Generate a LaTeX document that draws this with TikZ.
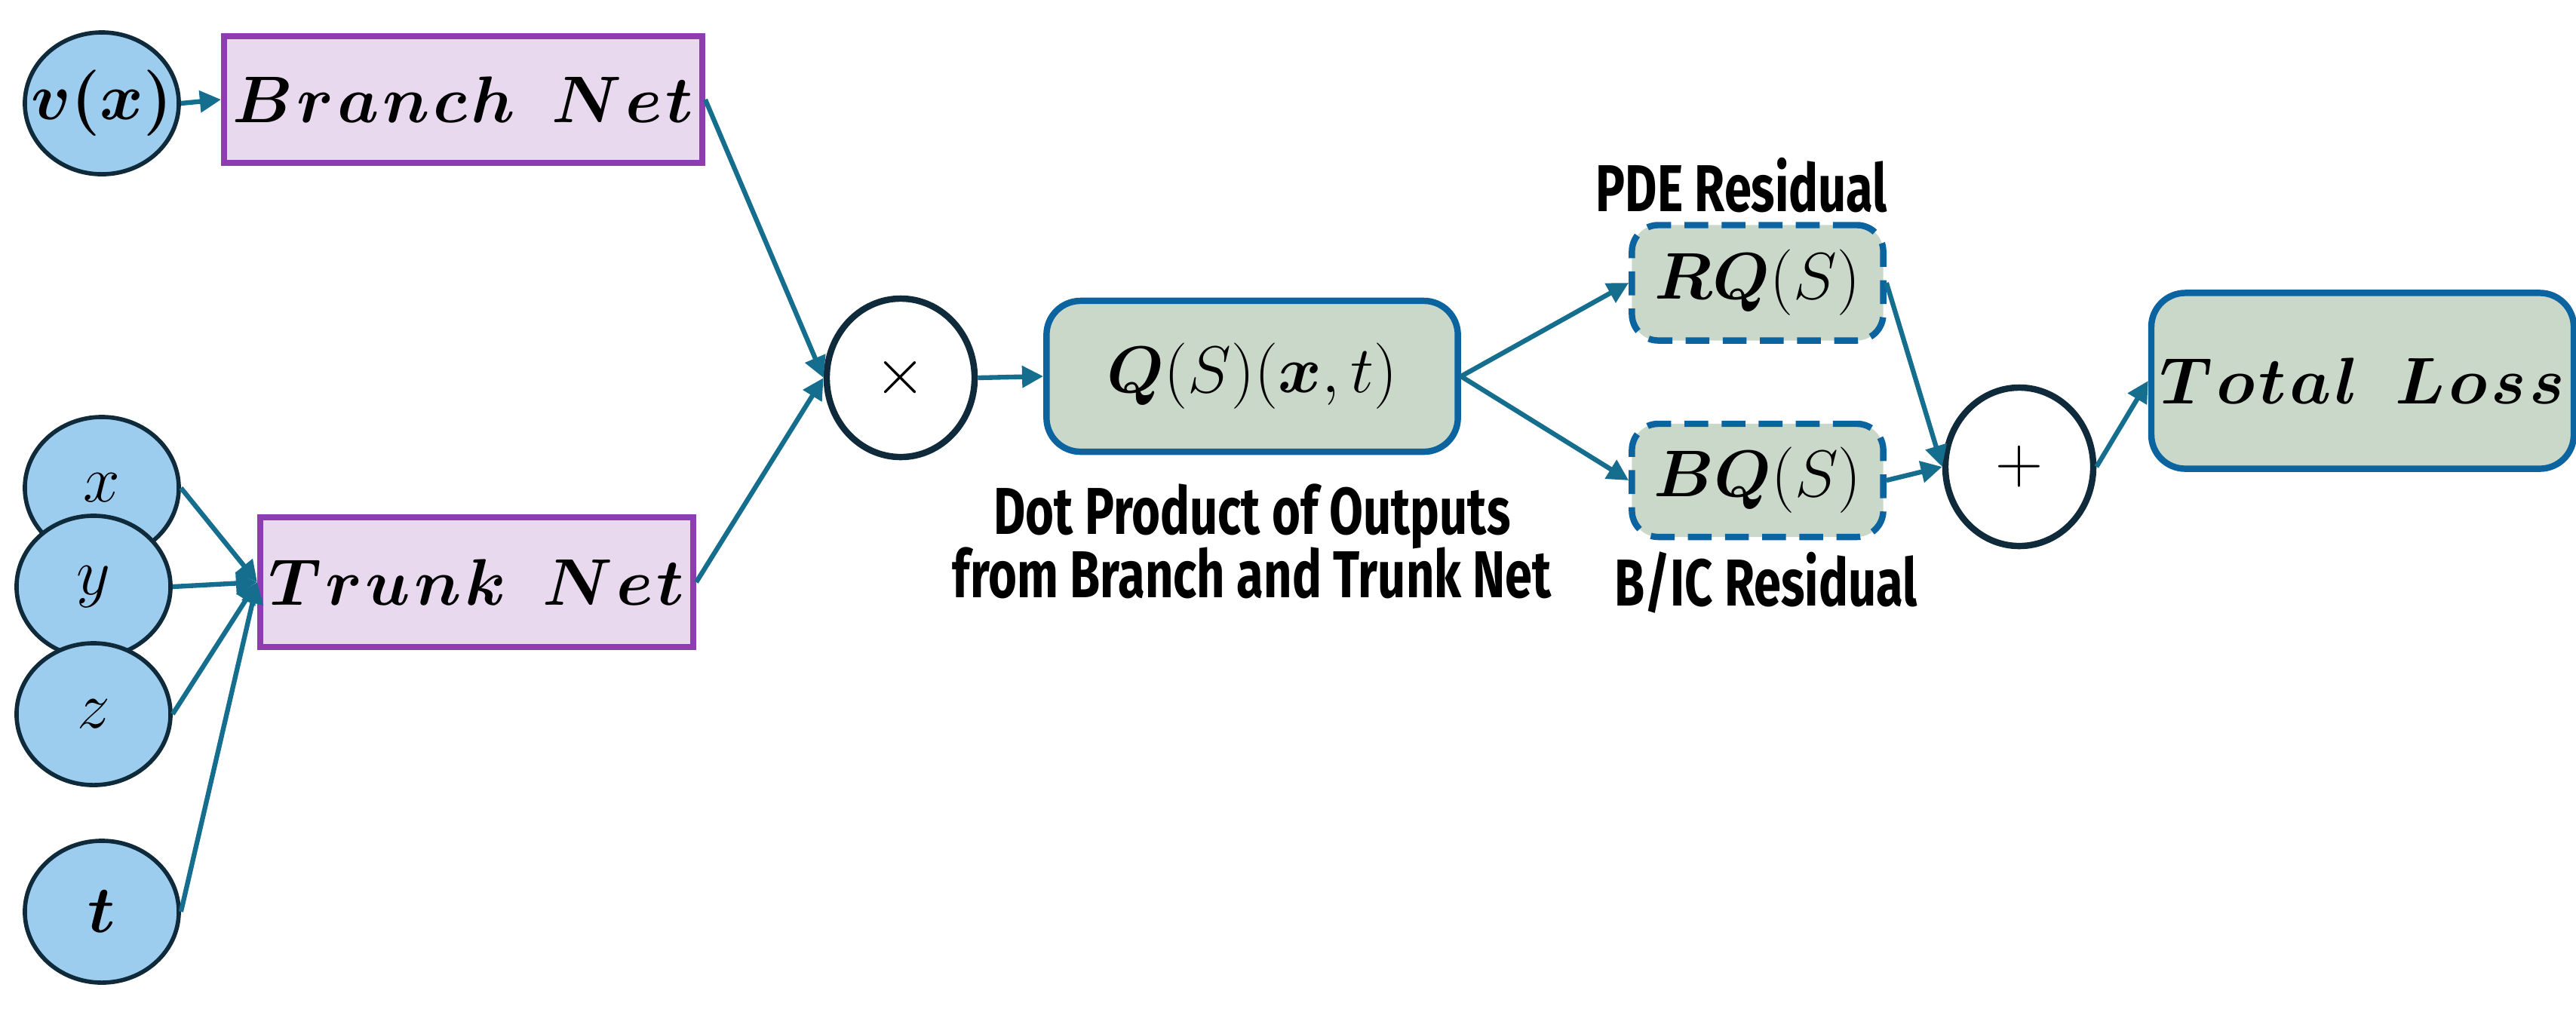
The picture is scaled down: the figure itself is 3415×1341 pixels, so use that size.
\documentclass[tikz,border=0pt]{standalone}
\usepackage{fontspec}
\usepackage{amsmath,bm}
\usetikzlibrary{arrows.meta,shapes.geometric}
\newfontfamily\labfont{Fira Sans}[FakeStretch=0.74]
\definecolor{inC}{HTML}{9DCDEE}
\definecolor{inB}{HTML}{0F2A3A}
\definecolor{netF}{HTML}{E8D9EE}
\definecolor{netB}{HTML}{8E3DB0}
\definecolor{grF}{HTML}{C9D8C9}
\definecolor{grB}{HTML}{0B63A0}
\definecolor{arr}{HTML}{166E8F}
\begin{document}
\begin{tikzpicture}[x=0.01cm,y=-0.01cm,
 inp/.style={ellipse,draw=inB,fill=inC,line width=1.6pt,inner sep=0pt,minimum width=2.04cm,minimum height=1.88cm},
 itx/.style={font=\fontsize{28}{34}\selectfont,inner sep=0pt},
 net/.style={rectangle,draw=netB,fill=netF,line width=2.2pt,font=\fontsize{25}{30}\selectfont},
 gr/.style={rectangle,rounded corners=0.45cm,draw=grB,fill=grF,line width=2.4pt,font=\fontsize{30}{36}\selectfont},
 dgr/.style={gr,dash pattern=on 9pt off 5pt,rounded corners=0.35cm},
 op/.style={ellipse,draw=inB,fill=white,line width=2.4pt,font=\fontsize{32}{38}\selectfont},
 lab/.style={font=\labfont\bfseries\fontsize{25}{30}\selectfont,align=center},
 ar/.style={draw=arr,line width=1.8pt,-{Triangle[length=8pt,width=8pt]}}]
\useasboundingbox (0,0) rectangle (3415,1341);
\node[inp] (v) at (135,137) {};
\node[inp] (x) at (135,647) {};
\node[inp] (y) at (124,778) {};
\node[inp] (z) at (124,947) {};
\node[inp] (t) at (135,1209) {};
\node[itx] (vl) at (v) {$\bm{v(x)}$};
\node[itx] (xl) at (x) {$x$};
\node[itx] (yl) at (y) {$y$};
\node[itx] (zl) at (z) {$z$};
\node[itx] (tl0) at (t) {$\bm{t}$};
\node[net,minimum width=5.66cm,minimum height=1.68cm] (br) at (614,132) {$\bm{B\mkern1mu r\mkern1mu a\mkern1mu n\mkern1mu c\mkern1mu h\;\;N\mkern1mu e\mkern1mu t}$};
\node[net,minimum width=5.69cm,minimum height=1.72cm] (tr) at (632,772) {$\bm{T\mkern1mu r\mkern1mu u\mkern1mu n\mkern1mu k\;\;N\mkern1mu e\mkern1mu t}$};
\node[op,minimum width=1.96cm,minimum height=2.1cm] (mul) at (1194,501) {$\times$};
\node[gr,minimum width=5.45cm,minimum height=2.0cm] (q) at (1660,499) {$\bm{Q}(S)(\bm{x},t)$};
\node[dgr,minimum width=3.33cm,minimum height=1.53cm] (rq) at (2330,375) {$\bm{RQ}(S)$};
\node[dgr,minimum width=3.33cm,minimum height=1.50cm] (bq) at (2330,637) {$\bm{BQ}(S)$};
\node[op,minimum width=1.96cm,minimum height=2.1cm] (plus) at (2677,619) {$+$};
\node[gr,minimum width=5.18cm,minimum height=2.33cm,font=\fontsize{27}{32}\selectfont] (tl) at (3132,505) {$\bm{T\mkern1mu o\mkern1mu t\mkern1mu a\mkern1mu l\;\;L\mkern1mu o\mkern1mu s\mkern1mu s}$};
\node[lab] (pde) at (2309,246) {PDE Residual};
\node[lab] (dot) at (1660,718) {Dot Product of Outputs\\[-6pt]from Branch and Trunk Net};
\node[lab] (bic) at (2341,773) {B/IC Residual};
\draw[ar] (v.east) -- (br.west);
\draw[ar] (br.east) -- (mul.west);
\draw[ar] (tr.east) -- (mul.west);
\draw[ar] (x.east) -- (tr.west);
\draw[ar] (y.east) -- (tr.west);
\draw[ar] (z.east) -- (tr.west);
\draw[ar] (t.east) -- (tr.west);
\draw[ar] (mul.east) -- (q.west);
\draw[ar] (q.east) -- (rq.west);
\draw[ar] (q.east) -- (bq.west);
\draw[ar] (rq.east) -- (plus.west);
\draw[ar] (bq.east) -- (plus.west);
\draw[ar] (plus.east) -- (tl.west);
\end{tikzpicture}
\end{document}
